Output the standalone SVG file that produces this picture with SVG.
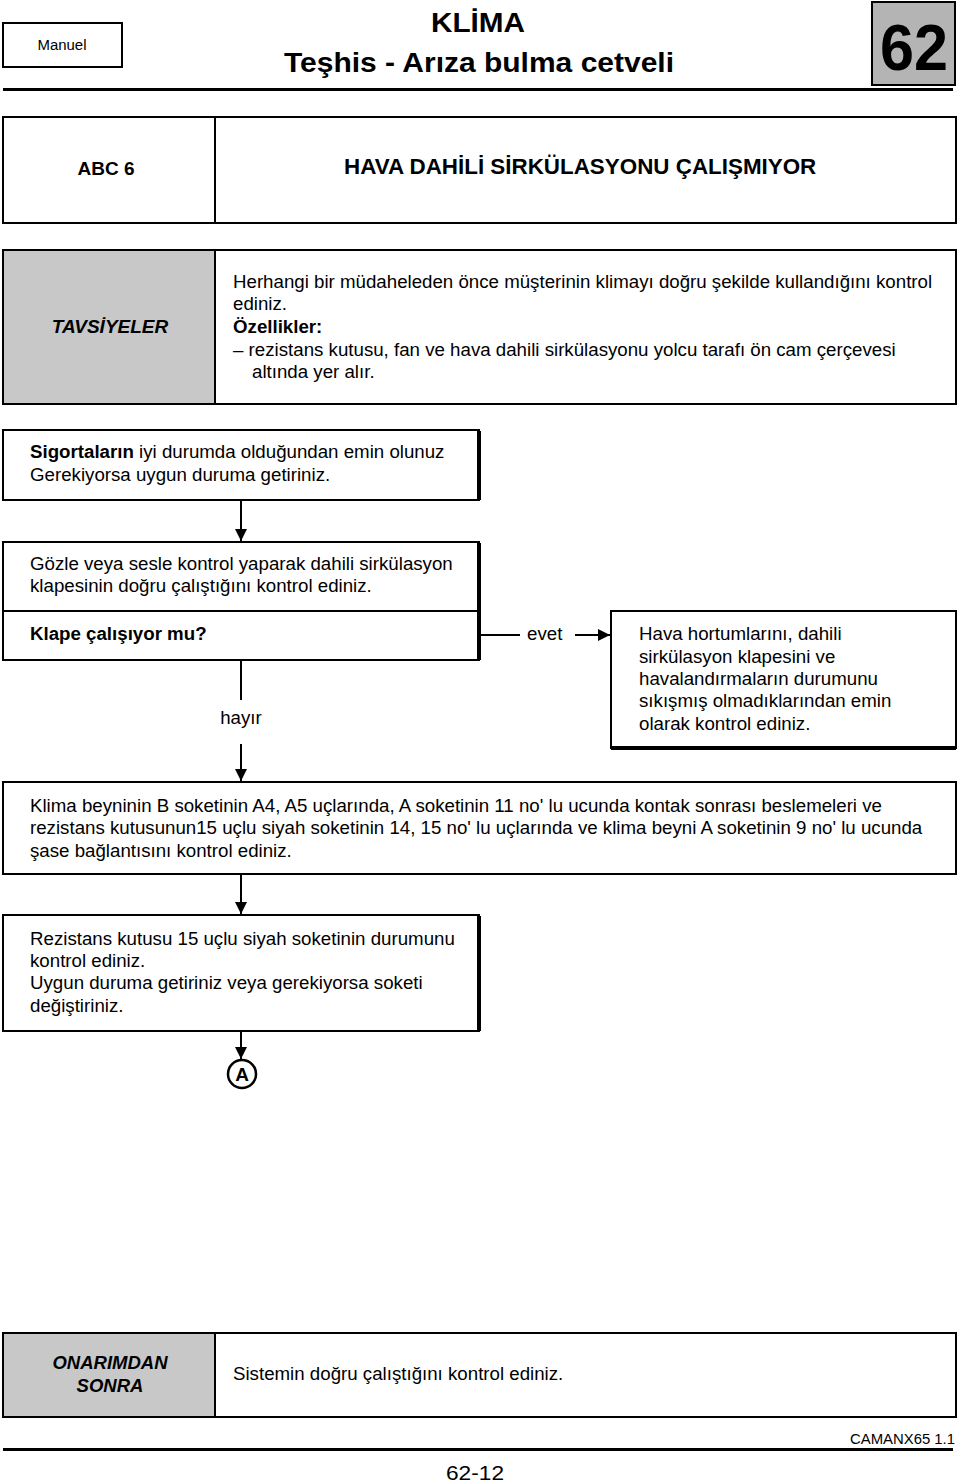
<svg xmlns="http://www.w3.org/2000/svg" width="960" height="1483" viewBox="0 0 960 1483">
<style>
text{font-family:"Liberation Sans",Arial,sans-serif;fill:#000}
.t{font-size:18.7px}
.b{font-weight:bold}
.box{fill:#fff;stroke:#000;stroke-width:2}
.gray{fill:#c8c8c8;stroke:#000;stroke-width:2}
.ln{stroke:#000;stroke-width:2;fill:none}
.sh{stroke:#000;stroke-width:4;fill:none}
</style>
<defs>
<marker id="ah" viewBox="0 0 10 10" refX="10" refY="5" markerWidth="12" markerHeight="12" markerUnits="userSpaceOnUse" orient="auto">
<path d="M0,0 L10,5 L0,10 z" fill="#000"/>
</marker>
</defs>
<g id="header">
<rect x="3" y="23" width="119" height="44" class="box"/>
<text x="62" y="50" font-size="14" text-anchor="middle" textLength="49" lengthAdjust="spacingAndGlyphs">Manuel</text>
<text x="478" y="32" font-size="28" class="b" text-anchor="middle" textLength="94" lengthAdjust="spacingAndGlyphs">KLİMA</text>
<text x="479" y="72" font-size="28" class="b" text-anchor="middle" textLength="390" lengthAdjust="spacingAndGlyphs">Teşhis - Arıza bulma cetveli</text>
<rect x="872" y="2" width="83" height="83" fill="#b4b4b4" stroke="#000" stroke-width="2"/>
<text x="914" y="70" font-size="64" class="b" text-anchor="middle" textLength="68" lengthAdjust="spacingAndGlyphs">62</text>
<line x1="3" y1="89.5" x2="953" y2="89.5" stroke="#000" stroke-width="3"/>
</g>
<g id="title-table">
<rect x="3" y="117" width="953" height="106" class="box"/>
<line x1="215" y1="117" x2="215" y2="223" class="ln"/>
<text x="106" y="175" font-size="19" class="b" text-anchor="middle">ABC 6</text>
<text x="344" y="174" font-size="22.4" class="b">HAVA DAHİLİ SİRKÜLASYONU ÇALIŞMIYOR</text>
</g>
<g id="tavsiyeler">
<rect x="3" y="250" width="953" height="154" class="box"/>
<rect x="3" y="250" width="212" height="154" class="gray"/>
<text x="110" y="333" font-size="19" class="b" font-style="italic" text-anchor="middle">TAVSİYELER</text>
<text class="t" x="233" y="288">Herhangi bir müdaheleden önce müşterinin klimayı doğru şekilde kullandığını kontrol</text>
<text class="t" x="233" y="310">ediniz.</text>
<text class="t b" x="233" y="333">Özellikler:</text>
<text class="t" x="233" y="356">–  rezistans kutusu, fan ve hava dahili sirkülasyonu yolcu tarafı ön cam çerçevesi</text>
<text class="t" x="252" y="378">altında yer alır.</text>
</g>
<g id="n1">
<rect x="3" y="430" width="476" height="70" class="box"/>
<line x1="479" y1="431" x2="479" y2="500" class="sh"/>
<text class="t" x="30" y="458"><tspan class="b">Sigortaların</tspan> iyi durumda olduğundan emin olunuz</text>
<text class="t" x="30" y="481">Gerekiyorsa uygun duruma getiriniz.</text>
</g>
<g id="n2">
<rect x="3" y="542" width="476" height="118" class="box"/>
<line x1="3" y1="611" x2="479" y2="611" class="ln"/>
<line x1="479" y1="543" x2="479" y2="660" class="sh"/>
<text class="t" x="30" y="570">Gözle veya sesle kontrol yaparak dahili sirkülasyon</text>
<text class="t" x="30" y="592">klapesinin doğru çalıştığını kontrol ediniz.</text>
<text class="t b" x="30" y="640">Klape çalışıyor mu?</text>
</g>
<g id="n3">
<rect x="611" y="611" width="345" height="137" class="box"/>
<line x1="611" y1="748" x2="956" y2="748" class="sh"/>
<text class="t" x="639" y="640">Hava hortumlarını, dahili</text>
<text class="t" x="639" y="663">sirkülasyon klapesini ve</text>
<text class="t" x="639" y="685">havalandırmaların durumunu</text>
<text class="t" x="639" y="707">sıkışmış olmadıklarından emin</text>
<text class="t" x="639" y="730">olarak kontrol ediniz.</text>
</g>
<g id="n4">
<rect x="3" y="782" width="953" height="92" class="box"/>
<text class="t" x="30" y="812">Klima beyninin B soketinin A4, A5 uçlarında, A soketinin 11 no' lu ucunda kontak sonrası beslemeleri ve</text>
<text class="t" x="30" y="834">rezistans kutusunun15 uçlu siyah soketinin 14, 15 no' lu uçlarında ve klima beyni A soketinin 9 no' lu ucunda</text>
<text class="t" x="30" y="857">şase bağlantısını kontrol ediniz.</text>
</g>
<g id="n5">
<rect x="3" y="915" width="476" height="116" class="box"/>
<line x1="479" y1="916" x2="479" y2="1031" class="sh"/>
<text class="t" x="30" y="945">Rezistans kutusu 15 uçlu siyah soketinin durumunu</text>
<text class="t" x="30" y="967">kontrol ediniz.</text>
<text class="t" x="30" y="989">Uygun duruma getiriniz veya gerekiyorsa soketi</text>
<text class="t" x="30" y="1012">değiştiriniz.</text>
</g>
<g id="nA">
<circle cx="242" cy="1074" r="14" fill="#fff" stroke="#000" stroke-width="2.5"/>
<text x="242" y="1081" font-size="19" class="b" text-anchor="middle">A</text>
</g>
<g id="connectors">
<line x1="241" y1="501" x2="241" y2="541" class="ln" marker-end="url(#ah)"/>
<line x1="481" y1="635" x2="520" y2="635" class="ln"/>
<line x1="575" y1="635" x2="610" y2="635" class="ln" marker-end="url(#ah)"/>
<text class="t" x="527" y="640">evet</text>
<line x1="241" y1="661" x2="241" y2="700" class="ln"/>
<text class="t" x="241" y="724" text-anchor="middle">hayır</text>
<line x1="241" y1="744" x2="241" y2="781" class="ln" marker-end="url(#ah)"/>
<line x1="241" y1="875" x2="241" y2="914" class="ln" marker-end="url(#ah)"/>
<line x1="241" y1="1032" x2="241" y2="1059" class="ln" marker-end="url(#ah)"/>
</g>
<g id="onarimdan">
<rect x="3" y="1333" width="953" height="84" class="box"/>
<rect x="3" y="1333" width="212" height="84" class="gray"/>
<text x="110" y="1369" font-size="18.5" class="b" font-style="italic" text-anchor="middle">ONARIMDAN</text>
<text x="110" y="1392" font-size="18.5" class="b" font-style="italic" text-anchor="middle">SONRA</text>
<text class="t" x="233" y="1380">Sistemin doğru çalıştığını kontrol ediniz.</text>
</g>
<g id="footer">
<text x="955" y="1444" font-size="14" text-anchor="end" textLength="105" lengthAdjust="spacingAndGlyphs">CAMANX65 1.1</text>
<line x1="3" y1="1449.5" x2="953" y2="1449.5" stroke="#000" stroke-width="3"/>
<text x="475" y="1480" font-size="20" text-anchor="middle" textLength="58" lengthAdjust="spacingAndGlyphs">62-12</text>
</g>
</svg>
